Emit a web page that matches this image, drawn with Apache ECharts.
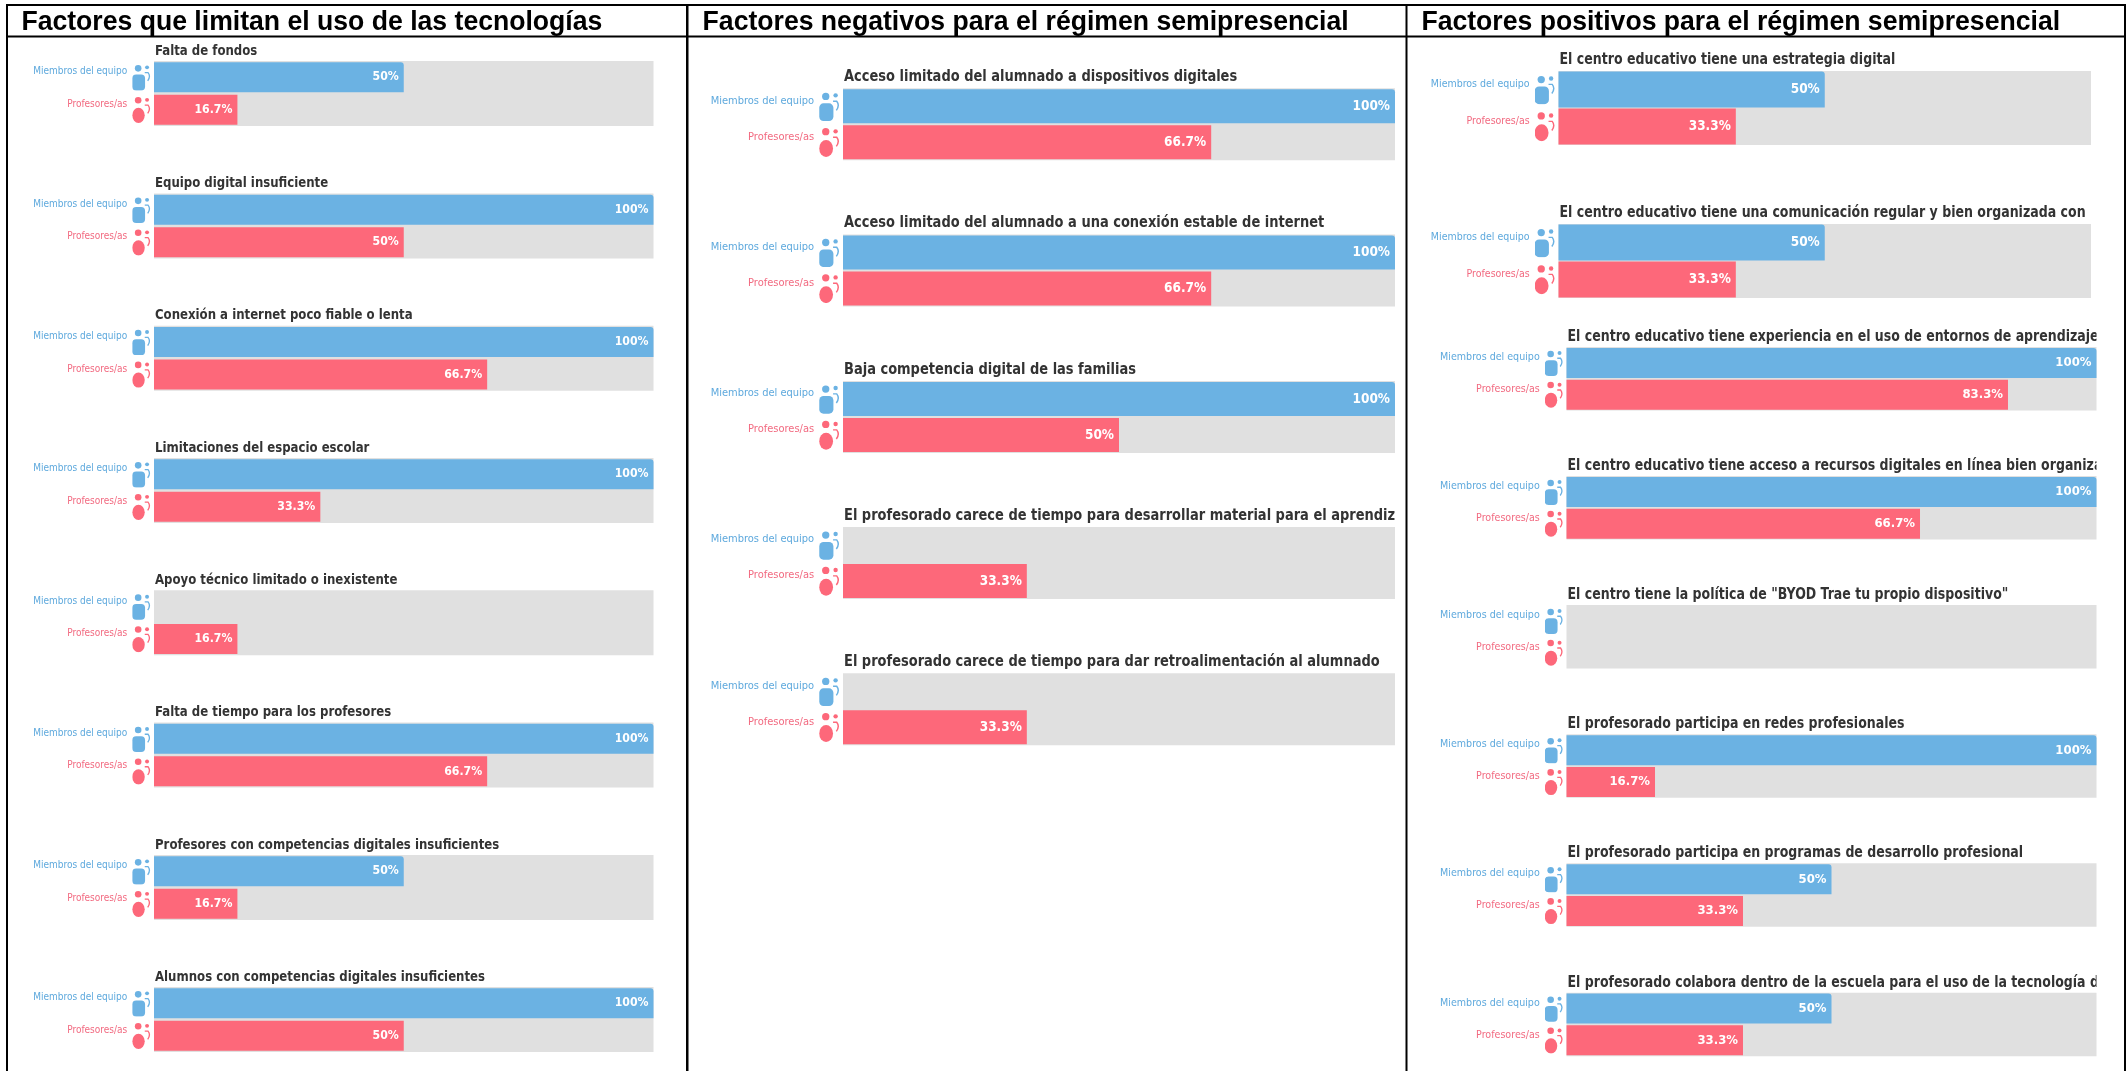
<!DOCTYPE html>
<html><head><meta charset="utf-8">
<style>html,body{margin:0;padding:0;background:#fff}#c{width:2127px;height:1071px}</style>
<script src="https://cdn.jsdelivr.net/npm/echarts@6/dist/echarts.min.js"></script>
</head><body><div id="c"></div>
<script>
const seriesLabels = ['Miembros del equipo', 'Profesores/as'];
const headers = ['Factores que limitan el uso de las tecnologías', 'Factores negativos para el régimen semipresencial', 'Factores positivos para el régimen semipresencial'];

const limitCategories = ['Falta de fondos', 'Equipo digital insuficiente', 'Conexión a internet poco fiable o lenta', 'Limitaciones del espacio escolar', 'Apoyo técnico limitado o inexistente', 'Falta de tiempo para los profesores', 'Profesores con competencias digitales insuficientes', 'Alumnos con competencias digitales insuficientes'];
const limitMiembros = [50, 100, 100, 100, 0, 100, 50, 100];
const limitProfesores = [16.7, 50, 66.7, 33.3, 16.7, 66.7, 16.7, 50];

const negCategories = ['Acceso limitado del alumnado a dispositivos digitales', 'Acceso limitado del alumnado a una conexión estable de internet', 'Baja competencia digital de las familias', 'El profesorado carece de tiempo para desarrollar material para el aprendiz', 'El profesorado carece de tiempo para dar retroalimentación al alumnado'];
const negMiembros = [100, 100, 100, 0, 0];
const negProfesores = [66.7, 66.7, 50, 33.3, 33.3];

const posCategories = ['El centro educativo tiene una estrategia digital', 'El centro educativo tiene una comunicación regular y bien organizada con l', 'El centro educativo tiene experiencia en el uso de entornos de aprendizaje', 'El centro educativo tiene acceso a recursos digitales en línea bien organiza', 'El centro tiene la política de "BYOD Trae tu propio dispositivo"', 'El profesorado participa en redes profesionales', 'El profesorado participa en programas de desarrollo profesional', 'El profesorado colabora dentro de la escuela para el uso de la tecnología d'];
const posMiembros = [50, 50, 100, 100, 0, 100, 50, 50];
const posProfesores = [33.3, 33.3, 83.3, 66.7, 0, 16.7, 33.3, 33.3];

const BLUE = '#6bb2e3', RED = '#fd687a', GREY = '#e0e0e0';
const FONT = '"DejaVu Sans Condensed", "DejaVu Sans", sans-serif';

function icon(color, red) {
  const body = red ? `<ellipse cx="19" cy="58" rx="19" ry="23" fill="${color}"/>` : `<rect x="0" y="33" width="39" height="48" rx="12" fill="${color}"/>`;
  const svg = `<svg xmlns="http://www.w3.org/2000/svg" width="114" height="164" viewBox="0 0 57 82"><circle cx="18" cy="${red ? 12 : 14}" r="10" fill="${color}"/><circle cx="45" cy="11" r="6" fill="${color}"/>${body}<path d="M38 27 L48 27 Q57 38 47 52" fill="none" stroke="${color}" stroke-width="4"/></svg>`;
  return 'data:image/svg+xml;base64,' + btoa(svg);
}
const iconBlue = icon(BLUE, false), iconRed = icon(RED, true);

// layout blocks: each covers consecutive charts of a column
const layouts = [
  { cats: limitCategories, a: limitMiembros, b: limitProfesores, blocks: [
    { left: 154, right: 653.5, tops: [61, 193.5, 325.7, 458, 590.3, 722.6, 855, 987], h: 65, bar: 30, title: 14.4, tsx: 0.907, gap: 10, label: 10, val: 12.2, iconH: 27 } ] },
  { cats: negCategories, a: negMiembros, b: negProfesores, blocks: [
    { left: 843, right: 1395, tops: [88.3, 234.4, 381, 527, 673.3], h: 72, bar: 34, title: 15.4, tsx: 0.939, gap: 11, label: 11, val: 13.5, iconH: 30 } ] },
  { cats: posCategories, a: posMiembros, b: posProfesores, blocks: [
    { left: 1558.5, right: 2091, tops: [71, 224], h: 74, bar: 36, title: 15, tsx: 0.932, gap: 10.5, label: 10.5, val: 13.5, iconH: 30 },
    { left: 1566.5, right: 2096.5, tops: [347, 476, 605, 734.3, 863.3, 992.7], h: 63.5, bar: 30, title: 15, tsx: 0.93, gap: 10, label: 10.6, val: 13, iconH: 27 } ] }
];
const headerLeft = [21.4, 702.6, 1421.4];

const grids = [], xAxes = [], yAxes = [], series = [], texts = [], masks = [];
headers.forEach((t, i) => texts.push({ type: 'text', x: headerLeft[i], y: 22, scaleX: 0.95, silent: true,
  style: { text: t, fontFamily: '"Liberation Sans", Arial, sans-serif', fontWeight: 'bold', fontSize: 28, fill: '#000', align: 'left', verticalAlign: 'middle' } }));

layouts.forEach(col => {
  let idx = 0;
  col.blocks.forEach(bl => {
    bl.tops.forEach(top => {
      const g = grids.length;
      const w = bl.right - bl.left;
      grids.push({ left: bl.left, top: top, width: w, height: bl.h, show: true, backgroundColor: GREY, borderWidth: 0 });
      xAxes.push({ gridIndex: g, type: 'value', min: 0, max: 100, show: false });
      yAxes.push({ gridIndex: g, type: 'category', inverse: true, data: seriesLabels,
        axisLine: { show: false }, axisTick: { show: false }, splitLine: { show: false },
        axisLabel: { margin: 3, interval: 0,
          formatter: (v, k) => k === 0 ? `{a|${v}}{ia|}` : `{b|${v}}{ib|}`,
          rich: {
            a: { color: '#5ea9dd', fontFamily: FONT, fontSize: bl.label, padding: [0, 5, 11, 0] },
            b: { color: '#f26a80', fontFamily: FONT, fontSize: bl.label, padding: [0, 5, 11, 0] },
            ia: { width: bl.iconH * 57 / 82, height: bl.iconH, backgroundColor: { image: iconBlue } },
            ib: { width: bl.iconH * 57 / 82, height: bl.iconH, backgroundColor: { image: iconRed } }
          } } });
      series.push({ type: 'bar', xAxisIndex: g, yAxisIndex: g, barWidth: bl.bar, silent: true,
        data: [
          { value: col.a[idx], itemStyle: { color: BLUE, borderRadius: [0, 3, 0, 0] } },
          { value: col.b[idx], itemStyle: { color: RED } }
        ],
        label: { show: true, position: 'insideRight', distance: 5, color: '#fff', fontFamily: FONT, fontWeight: 'bold', fontSize: bl.val,
          formatter: p => p.value > 0 ? p.value + '%' : '' } });
      texts.push({ type: 'text', x: bl.left + 1, y: top - bl.gap, scaleX: bl.tsx, silent: true,
        style: { text: col.cats[idx], fontFamily: FONT, fontWeight: 'bold', fontSize: bl.title, fill: '#333', align: 'left', verticalAlign: 'middle' } });
      // the reference crops long titles at the right edge of their chart
      masks.push({ type: 'rect', shape: { x: bl.right, y: top - bl.gap - 11, width: 9, height: 21 }, style: { fill: '#fff' }, silent: true });
      idx++;
    });
  });
});

const line = (x, y, w, h) => ({ type: 'rect', shape: { x, y, width: w, height: h }, style: { fill: '#000' }, silent: true });
const chart = echarts.init(document.getElementById('c'));
chart.setOption({
  animation: false, backgroundColor: '#fff', grid: grids, xAxis: xAxes, yAxis: yAxes, series: series,
  graphic: { elements: texts.concat(masks, [ line(6, 4, 2120, 2), line(6, 35.5, 2120, 2), line(6, 4, 2, 1067), line(686, 4, 2.5, 1067), line(1405.5, 4, 2, 1067), line(2124, 4, 2, 1067) ]) }
});
</script></body></html>
